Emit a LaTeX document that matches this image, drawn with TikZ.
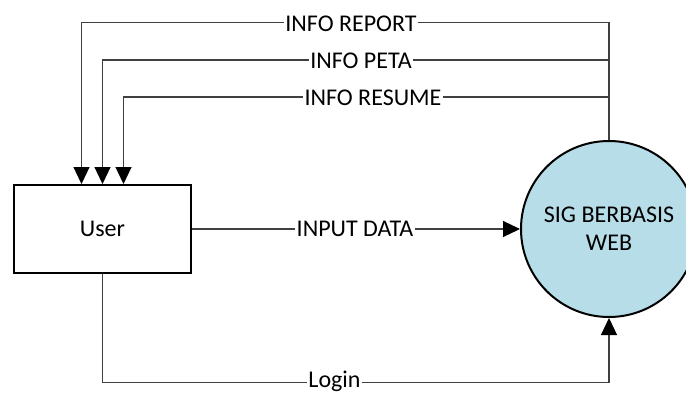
\documentclass[tikz,border=0pt]{standalone}
\usepackage{fontspec}
\setmainfont{Carlito}
\usetikzlibrary{arrows.meta}
\begin{document}
\begin{tikzpicture}[x=1pt,y=-1pt,
  font=\fontsize{24}{28}\selectfont,
  conn/.style={draw=black!75,line width=1.2pt},
  tip/.style={-{Triangle[width=16pt,length=17pt,black]}},
  entity/.style={draw=black,line width=2pt,minimum width=177pt,minimum height=88pt,inner sep=0pt},
  process/.style={circle,draw=black,line width=2pt,fill=procblue,minimum size=176pt,inner sep=0pt,align=center},
  flowlabel/.style={fill=white,inner xsep=1.5pt,inner ysep=1pt}]
\definecolor{procblue}{HTML}{B7DDE8}
\useasboundingbox (0,0) rectangle (686,396);
\clip (0,0) rectangle (686,396);

% external entity and process
\node[entity] (user) at (102.5,229) {User};
\node[process] (sig) at (609,229) {SIG BERBASIS\\WEB};

% outputs from the process back to the user
\draw[conn,tip] (sig.north) |- ([xshift=-21pt,yshift=161.5pt]user.north) -- ([xshift=-21pt]user.north);
\draw[conn,tip] (sig.north) |- ([yshift=124pt]user.north) -- (user.north);
\draw[conn,tip] (sig.north) |- ([xshift=21pt,yshift=87pt]user.north) -- ([xshift=21pt]user.north);

% inputs from the user
\draw[conn,tip] (user.east) -- (sig.west);
\draw[conn,tip] (user.south) |- ([yshift=-64.5pt]sig.south) -- (sig.south);

% flow labels
\node[flowlabel] (lrep) at (351,23.5) {INFO REPORT};
\node[flowlabel] (lpeta) at (361,61) {INFO PETA};
\node[flowlabel] (lres) at (373,98) {INFO RESUME};
\node[flowlabel] (linput) at (355,229) {INPUT DATA};
\node[flowlabel] (llogin) at (334.5,381.5) {Login};
\end{tikzpicture}
\end{document}
